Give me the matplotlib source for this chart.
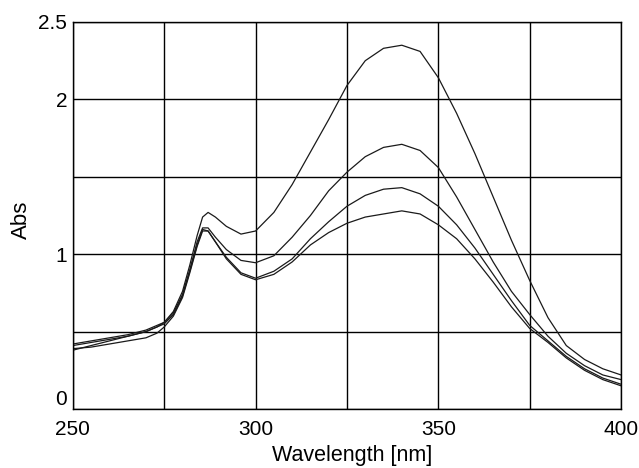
import numpy as np
import matplotlib
matplotlib.use('Agg')
import matplotlib.pyplot as plt

matplotlib.rcParams.update({'font.size': 15, 'font.family': ['Liberation Sans', 'DejaVu Sans']})

# wavelength grid (nm) shared by all spectra
wavelength = [250, 255, 260, 265, 270, 273, 275, 277.5, 280, 282, 284, 285.5, 287, 289,
              292, 296, 300, 305, 310, 315, 320, 325, 330, 335, 340, 345, 350, 355,
              360, 365, 370, 375, 380, 385, 390, 395, 400]

abs_1 = [0.41, 0.43, 0.45, 0.47, 0.50, 0.53, 0.56, 0.63, 0.76, 0.93, 1.12, 1.24, 1.27, 1.24,
         1.18, 1.13, 1.15, 1.27, 1.45, 1.66, 1.87, 2.09, 2.25, 2.33, 2.35, 2.31, 2.14, 1.91,
         1.65, 1.37, 1.09, 0.83, 0.59, 0.41, 0.32, 0.26, 0.22]
abs_2 = [0.42, 0.44, 0.46, 0.48, 0.51, 0.54, 0.56, 0.62, 0.74, 0.90, 1.08, 1.17, 1.17, 1.11,
         1.03, 0.96, 0.945, 0.99, 1.11, 1.25, 1.41, 1.53, 1.63, 1.69, 1.71, 1.67, 1.56, 1.37,
         1.16, 0.95, 0.76, 0.61, 0.47, 0.36, 0.28, 0.22, 0.19]
abs_3 = [0.38, 0.41, 0.44, 0.47, 0.50, 0.53, 0.55, 0.61, 0.73, 0.89, 1.06, 1.16, 1.15, 1.08,
         0.98, 0.88, 0.845, 0.89, 0.97, 1.10, 1.21, 1.31, 1.38, 1.42, 1.43, 1.39, 1.31, 1.19,
         1.04, 0.87, 0.70, 0.54, 0.44, 0.34, 0.26, 0.20, 0.16]
abs_4 = [0.39, 0.40, 0.42, 0.44, 0.46, 0.49, 0.53, 0.60, 0.72, 0.88, 1.05, 1.15, 1.15, 1.08,
         0.97, 0.87, 0.835, 0.87, 0.95, 1.06, 1.14, 1.20, 1.24, 1.26, 1.28, 1.26, 1.19, 1.10,
         0.97, 0.82, 0.66, 0.52, 0.43, 0.33, 0.25, 0.19, 0.15]

x_grid = [250, 275, 300, 325, 350, 375, 400]
x_labels = ['250', '', '300', '', '350', '', '400']
y_grid = [0, 0.5, 1, 1.5, 2, 2.5]
y_labels = ['0', '', '1', '', '2', '2.5']

fig = plt.figure(figsize=(6.39, 4.68), dpi=100)
ax = fig.add_axes([0.114, 0.126, 0.858, 0.827])

for spectrum in (abs_1, abs_2, abs_3, abs_4):
    ax.plot(wavelength, spectrum, color='#1a1a1a', lw=0.9)

ax.set_xlim(250, 400)
ax.set_ylim(0, 2.5)
ax.set_xticks(x_grid)
ax.set_xticklabels(x_labels)
ax.set_yticks(y_grid)
ax.set_yticklabels(y_labels)
ax.tick_params(length=0)
ax.tick_params(axis='x', pad=8)
ax.tick_params(axis='y', pad=4)
ax.grid(True, color='black', lw=1)
for s in ax.spines.values():
    s.set_color('black')
    s.set_linewidth(1)

ax.get_yticklabels()[0].set_verticalalignment('bottom')

ax.set_xlabel('Wavelength [nm]', fontsize=15.5)
ax.xaxis.set_label_coords(0.51, -0.092)
ax.set_ylabel('Abs', fontsize=16)
ax.yaxis.set_label_coords(-0.075, 0.49)

fig.savefig('out.png', dpi=100)
